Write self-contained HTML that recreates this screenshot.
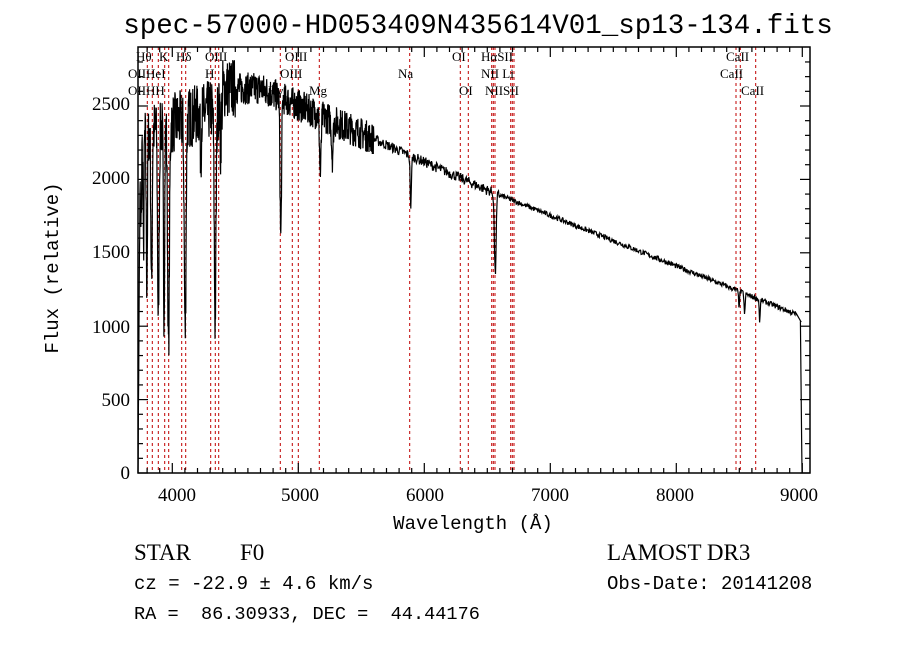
<!DOCTYPE html>
<html><head><meta charset="utf-8"><style>
html,body{margin:0;padding:0;background:#fff;width:900px;height:649px;overflow:hidden}
svg text{font-family:"Liberation Serif",serif;fill:#000}
</style></head><body>
<svg id="s" width="900" height="649" viewBox="0 0 900 649" xmlns="http://www.w3.org/2000/svg">
<rect width="900" height="649" fill="#fff"/>
<text x="478" y="33" font-size="27.5" text-anchor="middle" style="font-family:'Liberation Mono',monospace">spec-57000-HD053409N435614V01_sp13-134.fits</text>
<g id="lines" stroke="#c00000" stroke-width="1" stroke-dasharray="3,3"></g>
<path id="spec" fill="none" stroke="#000" stroke-width="1.2"/>
<rect x="138" y="47" width="672" height="426" fill="none" stroke="#000" stroke-width="1.5"/>
<g id="ticks" stroke="#000" stroke-width="1.2"></g>
<g font-size="19" style="font-family:'Liberation Sans',sans-serif" text-anchor="end">
<text x="130" y="479">0</text><text x="130" y="406">500</text><text x="130" y="333">1000</text><text x="130" y="258">1500</text><text x="130" y="184">2000</text><text x="130" y="110">2500</text>
</g>
<g font-size="19" style="font-family:'Liberation Sans',sans-serif" text-anchor="middle">
<text x="177" y="501">4000</text><text x="300" y="501">5000</text><text x="425" y="501">6000</text><text x="550" y="501">7000</text><text x="675" y="501">8000</text><text x="799" y="501">9000</text>
</g>
<text x="473" y="529" font-size="19" text-anchor="middle" style="font-family:'Liberation Mono',monospace">Wavelength (Å)</text>
<text transform="translate(58,268) rotate(-90)" font-size="19" text-anchor="middle" style="font-family:'Liberation Mono',monospace">Flux (relative)</text>
<g font-size="13">
<text x="136" y="61">Hθ</text><text x="159" y="61">K</text><text x="176" y="61">Hδ</text><text x="205" y="61">OIII</text><text x="285" y="61">OIII</text>
<text x="128" y="78">OIIHeI</text><text x="205" y="78">H</text><text x="280" y="78">OIII</text><text x="398" y="78">Na</text>
<text x="128" y="95">OIIHH</text><text x="268" y="95">Hγ</text><text x="309" y="95">Mg</text>
<text x="452" y="61">OI</text><text x="481" y="61">HαSII</text><text x="481" y="78">NII Li</text><text x="459" y="95">OI</text><text x="485" y="95">NIISII</text>
<text x="726" y="61">CaII</text><text x="720" y="78">CaII</text><text x="741" y="95">CaII</text>
</g>
<text x="134" y="560" font-size="23" style="font-family:'Liberation Serif',serif">STAR</text>
<text x="240" y="560" font-size="23" style="font-family:'Liberation Serif',serif">F0</text>
<text x="607" y="560" font-size="23" style="font-family:'Liberation Serif',serif">LAMOST DR3</text>
<text x="134" y="589" font-size="19" style="font-family:'Liberation Mono',monospace">cz = -22.9 ± 4.6 km/s</text>
<text x="607" y="589" font-size="19" style="font-family:'Liberation Mono',monospace">Obs-Date: 20141208</text>
<text x="134" y="619" font-size="18.6" style="font-family:'Liberation Mono',monospace" xml:space="preserve">RA =  86.30933, DEC =  44.44176</text>
</svg>
<script>
var NS="http://www.w3.org/2000/svg";
function X(l){return 172.3+(l-4000)*0.126;}
function Y(f){return 473-f*0.1468;}
var lg=document.getElementById('lines');
[138,147.3,152.3,158.3,164.7,168.7,181.7,185.7,210.7,215.3,218.7,280.3,292.3,298.3,319.3,409.7,460.3,468.3,491.7,493.3,495,510.7,512.3,514,736,740.3,755.7].forEach(function(x){
var l=document.createElementNS(NS,'line');l.setAttribute('x1',x);l.setAttribute('x2',x);l.setAttribute('y1',47);l.setAttribute('y2',473);lg.appendChild(l);});
var tg=document.getElementById('ticks'),t='';
function ln(a,b,c,d){t+='<line x1="'+a+'" y1="'+b+'" x2="'+c+'" y2="'+d+'"/>';}
for(var w=3800;w<=9000;w+=100){var x=X(w),L=(w%1000==0)?10:5;ln(x,473,x,473-L);ln(x,47,x,47+L);}
for(var f=0;f<=2800;f+=100){var y=Y(f),L=(f%500==0)?10:5;ln(138,y,138+L,y);ln(810,y,810-L,y);}
tg.innerHTML=t;
var seed=7;function rnd(){seed=(seed*16807)%2147483647;return seed/2147483647;}
function cont(l){
 if(l<4400) return 2500+ (l-4400)*0.3;
 if(l<4700) return 2620;
 return 2620-(l-4700)*0.385+ (l>6500?(l-6500)*0.04:0);
}
var ab=[[3750,700,5],[3771,800,4],[3798,1000,5],[3835,1100,5],[3889,1300,6],[3934,1250,5],[3970,1500,7],[4102,1450,7],[4226,300,4],[4340,1450,7],[4383,300,4],[4861,950,6],[5175,400,6],[5270,250,6],[5893,350,5],[6563,550,7],[8498,100,4],[8542,150,4],[8662,150,4]];
var d='M'+X(3728).toFixed(1)+','+Y(0);
for(var l=3729;l<=8990;l+=(l<5600?2:4)){
 var f=cont(l);
 var nz=(l<4500?420:(l<5600?220:(l<6600?70:35)));
 f+=(rnd()-0.5)*nz;
 for(var i=0;i<ab.length;i++){var a=ab[i];var dd=(l-a[0])/a[2];f-=a[1]*Math.exp(-dd*dd/2);}
 if(l<3745) f=f*(l-3728)/17;
 if(l>8950) f=1090-(l-8950)*1.5;
 d+=' L'+X(l).toFixed(1)+','+Y(Math.max(0,Math.min(2820,f))).toFixed(1);
}
d+=' L'+X(8985)+','+Y(1030)+' L'+X(8995)+','+Y(200)+' L'+X(8998)+','+Y(0);
document.getElementById('spec').setAttribute('d',d);
</script>
</body></html>
